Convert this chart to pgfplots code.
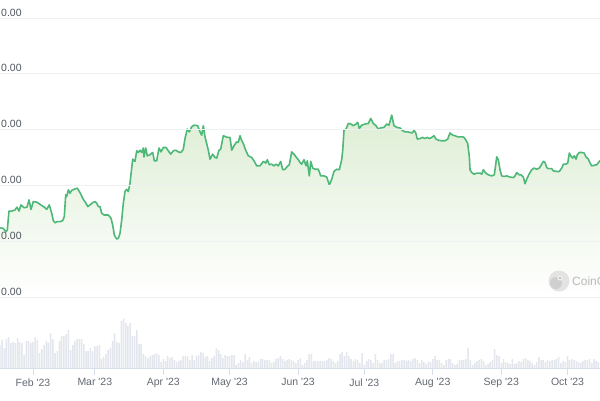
\documentclass[border=0pt]{standalone}
\usepackage{pgfplots}
\usepackage{pgfplotstable}
\pgfplotsset{compat=1.18}
\usepackage{fontspec}
\setmainfont{Liberation Sans}
\definecolor{linegreen}{RGB}{78,184,120}
\definecolor{fillgreen}{RGB}{222,238,213}
\definecolor{gridc}{RGB}{238,240,244}
\definecolor{volc}{RGB}{227,230,237}
\definecolor{axc}{RGB}{214,222,236}
\definecolor{labc}{RGB}{100,105,114}
\definecolor{ylabc}{RGB}{78,84,96}

\pgfplotstableread[row sep=\\]{
day price\\
16.06 1.24\\ 17.55 1.23\\ 18.78 1.17\\ 19.37 1.20\\ 20.13 1.54\\ 21.49 1.54\\ 22.85 1.56\\ 23.76 1.61\\
24.66 1.54\\ 25.57 1.65\\ 26.93 1.60\\ 28.28 1.61\\ 29.19 1.74\\ 30.09 1.57\\ 31.14 1.71\\ 32.68 1.70\\
34.17 1.66\\ 36.12 1.61\\ 37.20 1.57\\ 38.38 1.65\\ 39.47 1.50\\ 40.19 1.37\\ 40.96 1.33\\ 42.00 1.35\\
43.23 1.35\\ 44.45 1.37\\ 45.17 1.44\\ 45.81 1.83\\ 46.26 1.80\\ 46.98 1.92\\ 47.75 1.86\\ 48.52 1.91\\
49.56 1.93\\ 51.06 1.95\\ 52.28 1.87\\ 53.77 1.75\\ 55.00 1.68\\ 55.77 1.62\\ 56.81 1.65\\ 58.03 1.69\\
59.07 1.71\\ 59.84 1.68\\ 60.57 1.62\\ 61.34 1.62\\ 62.10 1.50\\ 63.15 1.47\\ 65.09 1.47\\ 66.31 1.41\\
67.08 1.29\\ 67.81 1.11\\ 68.90 1.04\\ 69.62 1.05\\ 70.39 1.14\\ 71.16 1.38\\ 71.89 1.68\\ 72.65 1.89\\
73.42 1.93\\ 74.15 1.89\\ 74.92 2.04\\ 76.14 2.47\\ 77.18 2.43\\ 77.95 2.62\\ 78.68 2.59\\ 79.45 2.63\\
80.21 2.59\\ 80.94 2.67\\ 81.26 2.51\\ 82.03 2.67\\ 82.75 2.53\\ 83.97 2.55\\ 85.19 2.59\\ 85.92 2.44\\
87.00 2.44\\ 88.05 2.67\\ 88.95 2.60\\ 89.99 2.68\\ 91.22 2.68\\ 92.26 2.62\\ 93.35 2.56\\ 94.52 2.62\\
95.75 2.63\\ 96.79 2.60\\ 98.01 2.59\\ 99.05 2.65\\ 99.82 2.84\\ 100.86 3.01\\ 101.76 2.96\\ 102.85 3.05\\
103.89 3.08\\ 105.57 3.07\\ 106.61 2.96\\ 107.38 2.90\\ 108.11 3.07\\ 108.87 2.87\\ 109.64 2.75\\ 110.37 2.63\\
111.14 2.47\\ 112.36 2.56\\ 113.40 2.50\\ 114.17 2.49\\ 115.21 2.63\\ 115.98 2.65\\ 117.16 2.89\\ 118.38 2.87\\
119.15 2.86\\ 120.19 2.86\\ 120.96 2.63\\ 122.00 2.71\\ 123.23 2.78\\ 123.95 2.77\\ 124.72 2.89\\ 125.49 2.80\\
126.22 2.75\\ 127.30 2.63\\ 128.48 2.53\\ 130.02 2.50\\ 131.20 2.43\\ 132.28 2.35\\ 133.78 2.35\\ 135.27 2.43\\
136.36 2.40\\ 137.08 2.46\\ 137.99 2.37\\ 139.07 2.38\\ 140.11 2.35\\ 141.02 2.38\\ 142.06 2.35\\ 143.15 2.43\\
144.05 2.28\\ 145.10 2.29\\ 146.14 2.34\\ 147.04 2.37\\ 148.13 2.60\\ 149.17 2.56\\ 150.08 2.51\\ 151.12 2.46\\
151.89 2.41\\ 152.66 2.38\\ 153.70 2.46\\ 154.60 2.35\\ 155.19 2.44\\ 156.10 2.17\\ 156.73 2.43\\ 157.64 2.31\\
158.68 2.29\\ 160.17 2.29\\ 161.26 2.17\\ 162.75 2.17\\ 163.98 2.15\\ 165.16 2.01\\ 166.24 2.11\\ 167.28 2.25\\
168.50 2.29\\ 169.68 2.28\\ 170.77 2.46\\ 171.22 2.63\\ 171.81 2.99\\ 172.71 3.01\\ 173.75 3.11\\ 174.84 3.10\\
176.02 3.07\\ 177.24 3.10\\ 178.01 3.13\\ 178.73 3.02\\ 179.82 3.08\\ 181.31 3.10\\ 182.81 3.11\\ 183.90 3.20\\
185.08 3.11\\ 186.30 3.07\\ 187.34 3.01\\ 188.42 3.03\\ 189.92 3.04\\ 191.14 3.10\\ 192.18 3.08\\ 193.40 3.26\\
194.44 3.07\\ 195.67 3.04\\ 197.16 3.03\\ 198.38 2.98\\ 199.42 2.96\\ 200.47 2.96\\ 201.69 2.95\\ 202.73 2.94\\
203.50 2.99\\ 204.27 2.94\\ 205.00 2.83\\ 206.22 2.84\\ 207.44 2.86\\ 208.48 2.84\\ 209.52 2.86\\ 210.43 2.84\\
211.52 2.86\\ 212.56 2.89\\ 213.46 2.83\\ 214.50 2.81\\ 216.04 2.80\\ 217.54 2.80\\ 218.76 2.83\\ 219.80 2.94\\
221.02 2.90\\ 222.06 2.89\\ 223.29 2.87\\ 224.64 2.87\\ 225.55 2.87\\ 226.14 2.86\\ 227.04 2.81\\ 227.81 2.75\\
228.54 2.51\\ 228.86 2.28\\ 229.63 2.23\\ 230.67 2.20\\ 231.89 2.22\\ 233.38 2.22\\ 234.15 2.20\\ 234.88 2.28\\
235.96 2.22\\ 237.14 2.19\\ 238.68 2.17\\ 239.86 2.19\\ 240.94 2.51\\ 241.67 2.46\\ 242.44 2.28\\ 243.20 2.17\\
244.25 2.16\\ 245.47 2.17\\ 246.96 2.15\\ 248.46 2.14\\ 249.23 2.17\\ 250.00 2.23\\ 251.04 2.19\\ 251.95 2.19\\
252.99 2.15\\ 253.75 2.03\\ 254.52 2.11\\ 255.57 2.20\\ 256.79 2.28\\ 257.83 2.31\\ 259.05 2.29\\ 260.23 2.31\\
261.32 2.38\\ 262.04 2.43\\ 262.81 2.41\\ 263.58 2.32\\ 264.30 2.30\\ 265.84 2.30\\ 266.57 2.26\\ 268.10 2.25\\
269.28 2.25\\ 270.37 2.31\\ 271.10 2.38\\ 272.18 2.38\\ 273.09 2.40\\ 273.82 2.58\\ 274.45 2.53\\ 275.35 2.49\\
276.08 2.53\\ 276.85 2.47\\ 277.44 2.55\\ 278.34 2.59\\ 279.43 2.59\\ 280.47 2.58\\ 281.38 2.51\\ 282.42 2.47\\
283.19 2.40\\ 283.96 2.35\\ 285.00 2.36\\ 286.22 2.37\\ 287.40 2.43\\ 288.20 2.46\\
}\pricetable

\pgfplotstableread[row sep=\\]{
day vol\\
16 23\\ 17 28\\ 18 20\\ 19 29\\ 20 31\\ 21 25\\ 22 26\\ 23 25\\ 24 30\\ 25 26\\
26 25\\ 27 13\\ 28 27\\ 29 27\\ 30 25\\ 31 26\\ 32 31\\ 33 28\\ 34 15\\ 35 19\\
36 23\\ 37 27\\ 38 25\\ 39 35\\ 40 29\\ 41 15\\ 42 17\\ 43 27\\ 44 32\\ 45 32\\
46 34\\ 47 38\\ 48 18\\ 49 23\\ 50 27\\ 51 29\\ 52 29\\ 53 29\\ 54 24\\ 55 17\\
56 17\\ 57 20\\ 58 17\\ 59 22\\ 60 22\\ 61 23\\ 62 9\\ 63 11\\ 64 14\\ 65 18\\
66 20\\ 67 27\\ 68 35\\ 69 26\\ 70 25\\ 71 47\\ 72 49\\ 73 45\\ 74 42\\ 75 45\\
76 32\\ 77 32\\ 78 38\\ 79 24\\ 80 24\\ 81 14\\ 82 12\\ 83 10\\ 84 12\\ 85 13\\
86 14\\ 87 15\\ 88 13\\ 89 6\\ 90 9\\ 91 7\\ 92 12\\ 93 10\\ 94 11\\ 95 8\\
96 6\\ 97 7\\ 98 8\\ 99 12\\ 100 12\\ 101 12\\ 102 8\\ 103 13\\ 104 8\\ 105 12\\
106 13\\ 107 16\\ 108 15\\ 109 11\\ 110 12\\ 111 7\\ 112 10\\ 113 12\\ 114 20\\ 115 18\\
116 14\\ 117 10\\ 118 13\\ 119 12\\ 120 12\\ 121 13\\ 122 13\\ 123 3\\ 124 5\\ 125 8\\
126 6\\ 127 14\\ 128 8\\ 129 11\\ 130 5\\ 131 7\\ 132 6\\ 133 6\\ 134 9\\ 135 9\\
136 8\\ 137 8\\ 138 8\\ 139 5\\ 140 6\\ 141 9\\ 142 10\\ 143 12\\ 144 9\\ 145 7\\
146 8\\ 147 9\\ 148 8\\ 149 7\\ 150 5\\ 151 8\\
152 10\\ 153 3\\ 154 5\\ 155 8\\ 156 14\\ 157 14\\ 158 7\\ 159 7\\ 160 7\\ 161 7\\
162 7\\ 163 7\\ 164 8\\ 165 10\\ 166 9\\ 167 7\\ 168 5\\ 169 7\\ 170 14\\ 171 16\\
172 12\\ 173 16\\ 174 12\\ 175 9\\ 176 7\\ 177 9\\ 178 8\\ 179 5\\ 180 15\\ 181 3\\
182 7\\ 183 9\\ 184 8\\ 185 5\\ 186 14\\ 187 8\\ 188 5\\ 189 5\\ 190 8\\ 191 8\\
192 9\\ 193 14\\ 194 14\\ 195 5\\ 196 7\\ 197 7\\ 198 8\\ 199 8\\ 200 7\\ 201 8\\
202 7\\ 203 9\\ 204 10\\ 205 8\\ 206 5\\ 207 8\\ 208 6\\ 209 4\\ 210 6\\ 211 6\\
212 9\\ 213 12\\ 214 8\\ 215 8\\ 216 5\\ 217 3\\ 218 8\\ 219 9\\ 220 9\\ 221 5\\
222 3\\ 223 4\\ 224 8\\ 225 8\\ 226 8\\ 227 9\\ 228 20\\ 229 8\\ 230 3\\ 231 5\\
232 7\\ 233 8\\ 234 9\\ 235 7\\ 236 3\\ 237 4\\ 238 6\\ 239 8\\ 240 19\\ 241 13\\
242 12\\ 243 5\\ 244 9\\ 245 6\\ 246 5\\ 247 4\\ 248 9\\ 249 4\\ 250 5\\ 251 7\\
252 6\\ 253 9\\ 254 10\\ 255 8\\ 256 7\\ 257 5\\ 258 3\\ 259 6\\ 260 11\\ 261 8\\
262 8\\ 263 6\\ 264 8\\ 265 7\\ 266 8\\ 267 8\\ 268 9\\ 269 11\\ 270 5\\ 271 7\\
272 6\\ 273 12\\ 274 8\\ 275 9\\ 276 8\\ 277 7\\ 278 6\\ 279 5\\ 280 7\\ 281 8\\
282 8\\ 283 9\\ 284 5\\ 285 9\\ 286 7\\ 287 6\\
}\voltable

\begin{document}
\begin{tikzpicture}
\useasboundingbox (0,0) rectangle (600pt,400pt);
\fill[white] (0,0) rectangle (600pt,400pt);
% price panel
\begin{axis}[
  at={(0pt,103pt)}, anchor=south west,
  scale only axis, width=600pt, height=297pt,
  xmin=16.06, xmax=287.7, ymin=0, ymax=5.3226,
  axis on top,
  axis line style={draw=none},
  xtick=\empty,
  ytick={0,1,2,3,4,5},
  yticklabel={0.00},
  major tick length=0pt,
  ymajorgrids, grid style={draw=gridc, line width=0.7pt},
  yticklabel style={anchor=south west, inner sep=0pt, xshift=1pt, yshift=1.6pt,
    font=\fontsize{10.5}{12}\selectfont, text=ylabc},
]
\addplot[draw=none, top color=fillgreen, bottom color=white] table[x=day,y=price] {\pricetable} \closedcycle;
\addplot[linegreen, line width=1.6pt, line join=round, mark=none] table[x=day,y=price] {\pricetable};
\end{axis}
% volume panel
\begin{axis}[
  at={(0pt,32pt)}, anchor=south west,
  scale only axis, width=600pt, height=50pt,
  xmin=16.06, xmax=287.7, ymin=0, ymax=50,
  axis x line*=bottom, axis y line=none,
  x axis line style={-, draw=axc, line width=0.8pt},
  xtick={31,59,90,120,151,181,212,243,273},
  xticklabels={Feb \textquotesingle 23, Mar \textquotesingle 23, Apr \textquotesingle 23, May \textquotesingle 23, Jun \textquotesingle 23, Jul \textquotesingle 23, Aug \textquotesingle 23, Sep \textquotesingle 23, Oct \textquotesingle 23},
  xtick align=outside, major tick length=7pt,
  tick style={draw=axc, line width=0.8pt},
  xticklabel style={font=\fontsize{10.5}{12}\selectfont, text=labc},
  ytick=\empty,
]
\addplot[ybar, bar width=1.5pt, fill=volc, draw=none] table[x=day,y=vol] {\voltable};
\end{axis}
% watermark
\fill[gray!22] (559pt,119pt) circle (10.5pt);
\fill[gray!38] (556pt,117pt) circle (6pt);
\fill[gray!12] (560pt,122pt) circle (2.6pt);
\fill[gray!60] (560pt,122pt) circle (1.1pt);
\node[anchor=west, inner sep=0pt, text=gray!55, font=\fontsize{12}{14}\selectfont] at (572pt,119pt) {CoinGecko};
\end{tikzpicture}
\end{document}
